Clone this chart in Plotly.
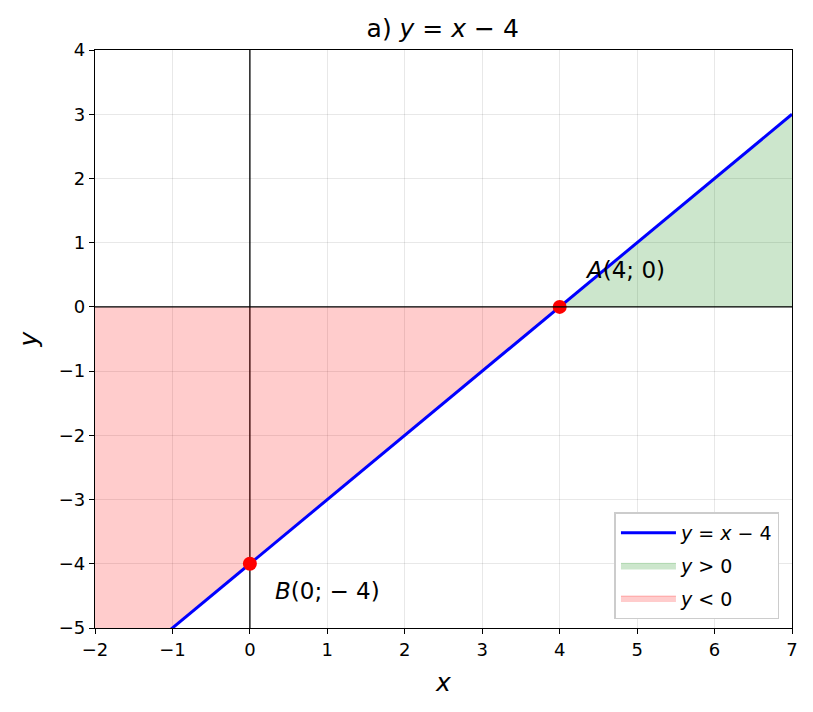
import plotly.graph_objects as go

# line y = x - 4 over the visible x range
line_x = [-2, 7]
line_y = [-6, 3]

# shaded regions (between line and y = 0)
pos_x = [4, 7]
pos_y = [0, 3]
neg_x = [-2, 4]
neg_y = [-6, 0]

# marked points
pts_x = [4, 0]
pts_y = [0, -4]
pts_text = ["<i>A</i>(4; 0)", "<i>B</i>(0; \u2212 4)"]
label_x = [4.3, 0.3]
label_y = [0.58, -4.42]

x_ticks = [-2, -1, 0, 1, 2, 3, 4, 5, 6, 7]
y_ticks = [-5, -4, -3, -2, -1, 0, 1, 2, 3, 4]

font = "DejaVu Sans"

fig = go.Figure()

fig.add_trace(go.Scatter(
    x=pos_x, y=pos_y, fill='tozeroy', mode='lines',
    line=dict(color='rgba(0,128,0,0.25)', width=1),
    fillcolor='rgba(0,128,0,0.2)',
    name='<i>y</i> > 0', legendrank=2, legendgroup='g2'
))
fig.add_trace(go.Scatter(
    x=neg_x, y=neg_y, fill='tozeroy', mode='lines',
    line=dict(color='rgba(255,0,0,0.25)', width=1),
    fillcolor='rgba(255,0,0,0.2)',
    name='<i>y</i> < 0', legendrank=3, legendgroup='g3'
))

# axes through the origin
fig.add_shape(type='line', x0=-2, x1=7, y0=0, y1=0,
              line=dict(color='black', width=1.3), layer='above')
fig.add_shape(type='line', x0=0, x1=0, y0=-5, y1=4,
              line=dict(color='black', width=1.3), layer='below')

fig.add_trace(go.Scatter(
    x=line_x, y=line_y, mode='lines',
    line=dict(color='blue', width=3),
    name='<i>y</i> = <i>x</i> \u2212 4', legendrank=1, legendgroup='g1'
))

fig.add_trace(go.Scatter(
    x=pts_x, y=pts_y, mode='markers',
    marker=dict(color='red', size=14),
    showlegend=False
))

for tx, ty, t in zip(label_x, label_y, pts_text):
    fig.add_annotation(x=tx, y=ty, text=t, showarrow=False,
                       xanchor='left', yanchor='middle',
                       font=dict(family=font, size=23, color='black'))

axis_common = dict(
    showgrid=True, gridcolor='rgba(0,0,0,0.09)', gridwidth=1,
    zeroline=False, showline=True, linecolor='black', linewidth=1.2,
    mirror=True, ticks='outside', ticklen=5, tickcolor='black',
    tickfont=dict(family=font, size=18, color='black'),
)

fig.update_xaxes(range=[-2, 7], tickvals=x_ticks,
                 ticktext=[str(v).replace('-', '\u2212') for v in x_ticks],
                 title=dict(text='<i>x</i>', font=dict(family=font, size=25), standoff=14),
                 **axis_common)
fig.update_yaxes(range=[-5, 4], tickvals=y_ticks,
                 ticktext=[str(v).replace('-', '\u2212') for v in y_ticks],
                 title=dict(text='<i>y</i>', font=dict(family=font, size=25), standoff=14),
                 **axis_common)

fig.update_layout(
    width=805, height=704,
    margin=dict(l=87, r=21, t=42, b=84),
    plot_bgcolor='white', paper_bgcolor='white',
    font=dict(family=font, color='black'),
    title=dict(text='a) <i>y</i> = <i>x</i> \u2212 4', x=0.54, xanchor='center',
               y=0.971, yanchor='middle', font=dict(family=font, size=25)),
    legend=dict(x=0.982, xanchor='right', y=0.015, yanchor='bottom',
                bgcolor='white', bordercolor='#cccccc', borderwidth=1.5,
                font=dict(family=font, size=19), itemwidth=55,
                tracegroupgap=5),
)

fig.write_html("out.html")
